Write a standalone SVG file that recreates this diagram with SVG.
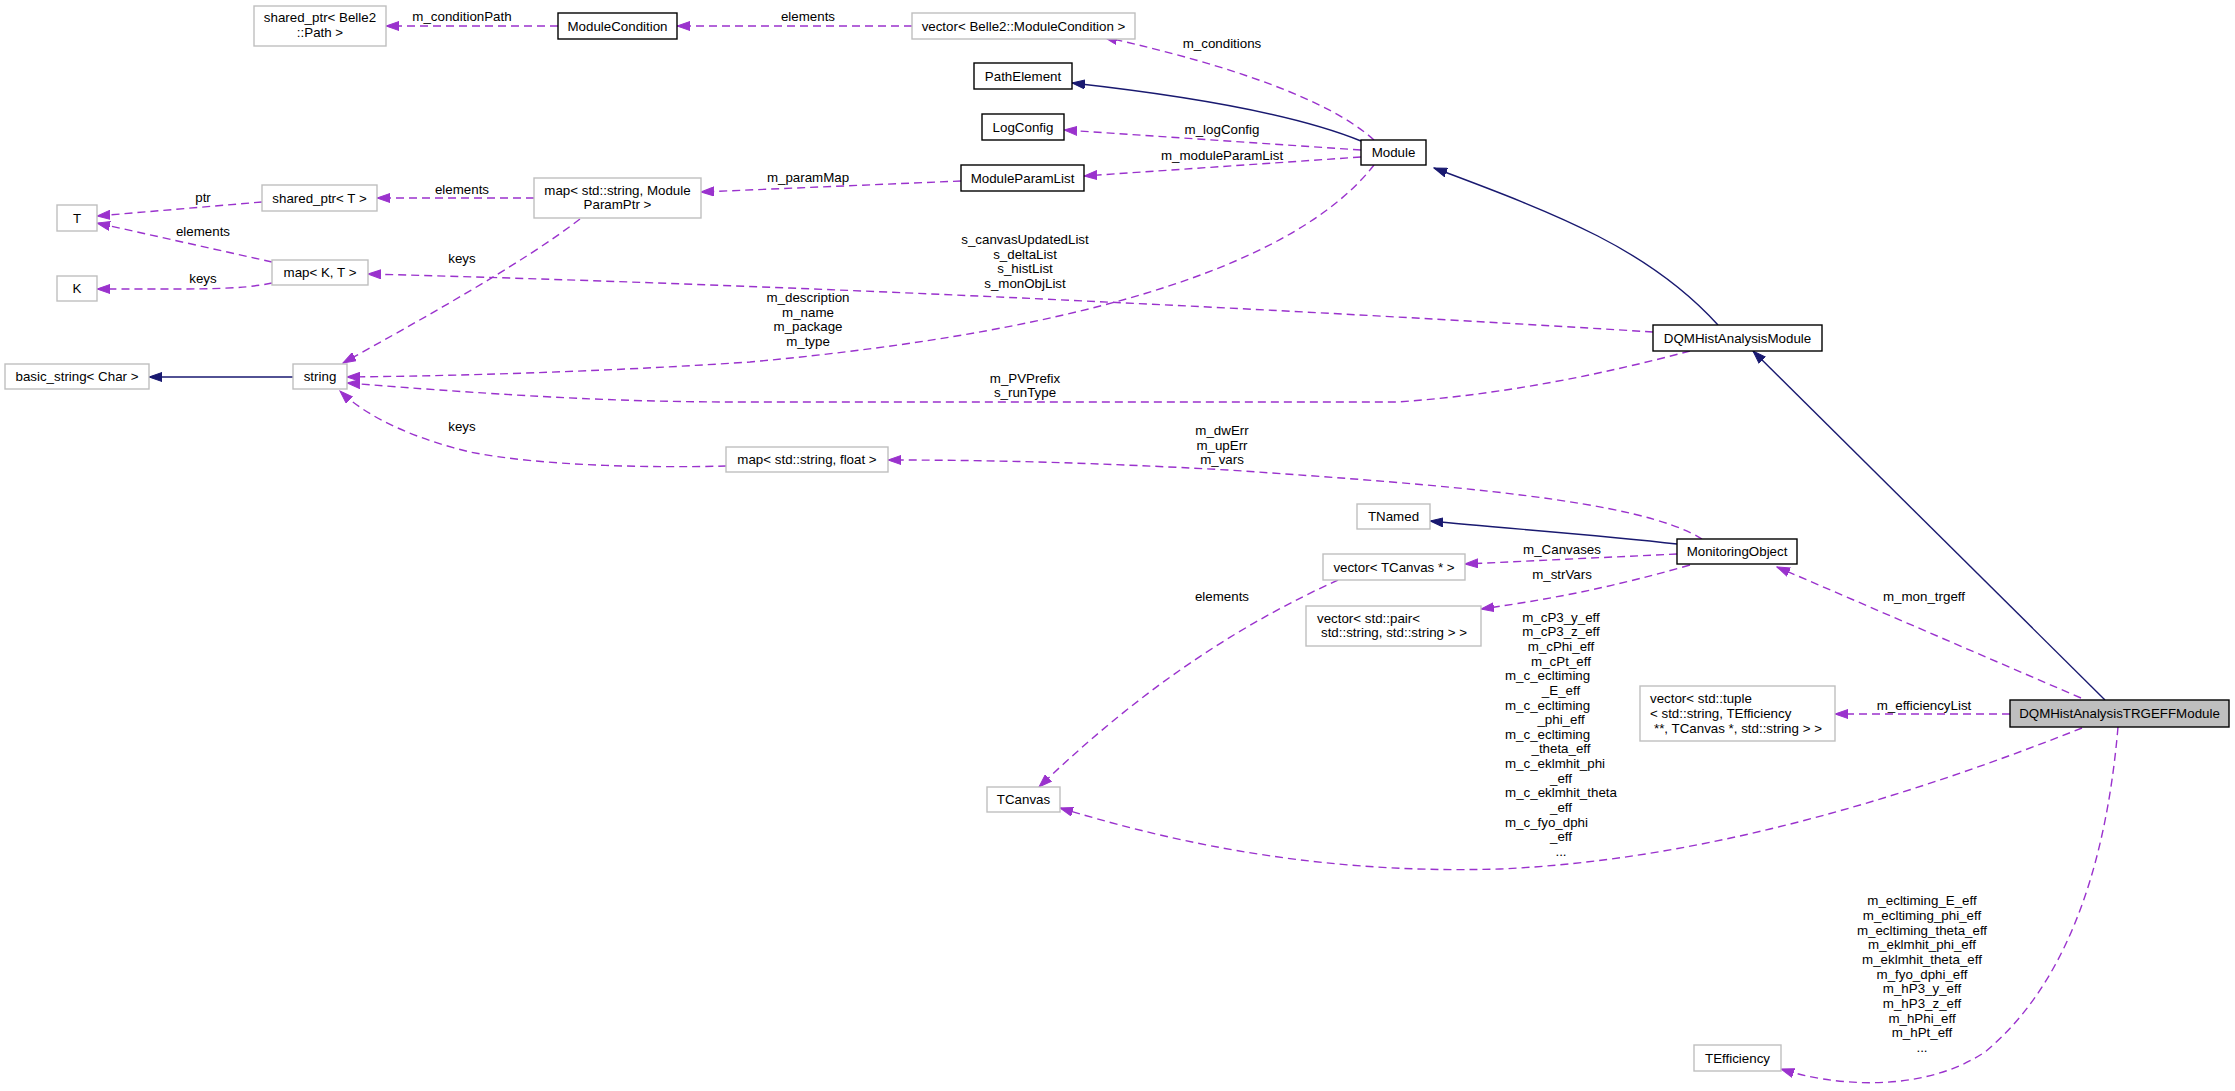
<svg xmlns="http://www.w3.org/2000/svg" width="2235" height="1091" viewBox="0 0 2235 1091">
<style>
text{font-family:"Liberation Sans",Helvetica,Arial,sans-serif;font-size:13.33px;fill:#000}
.n text{text-anchor:middle}
.g{fill:#fff;stroke:#bfbfbf;stroke-width:1.4}
.b{fill:#fff;stroke:#000;stroke-width:1.4}
.cur{fill:#bfbfbf;stroke:#000;stroke-width:1.4}
.inh{fill:none;stroke:#191970;stroke-width:1.4;marker-end:url(#an)}
.use{fill:none;stroke:#9a32cd;stroke-width:1.4;stroke-dasharray:8,5;marker-end:url(#ap)}
.lbl text{text-anchor:middle}
</style>
<defs>
<marker id="ap" markerUnits="userSpaceOnUse" markerWidth="14" markerHeight="10" viewBox="0 0 14 10" refX="13" refY="5" orient="auto"><path d="M0,0.5 L13,5 L0,9.5 z" fill="#9a32cd" stroke="#9a32cd" stroke-width="1"/></marker>
<marker id="an" markerUnits="userSpaceOnUse" markerWidth="14" markerHeight="10" viewBox="0 0 14 10" refX="13" refY="5" orient="auto"><path d="M0,0.5 L13,5 L0,9.5 z" fill="#191970" stroke="#191970" stroke-width="1"/></marker>
</defs>
<rect width="2235" height="1091" fill="#fff"/>

<g id="edges">
<path class="inh" d="M293,377 L149,377"/>
<path class="inh" d="M1361,141 C1290,112 1180,95 1072,83"/>
<path class="inh" d="M1718,325 C1650,250 1560,215 1434,168"/>
<path class="inh" d="M2105,700 L1753,351"/>
<path class="inh" d="M1677,544 C1600,535 1500,528 1430,521"/>

<path class="use" d="M558,26 L386,26"/>
<path class="use" d="M912,26 L677,26"/>
<path class="use" d="M1374,140 C1330,100 1230,65 1104,37"/>
<path class="use" d="M1361,150 L1064,130"/>
<path class="use" d="M1361,157 L1084,176"/>
<path class="use" d="M961,181 L701,192"/>
<path class="use" d="M534,198 L377,198"/>
<path class="use" d="M262,202 L97,216"/>
<path class="use" d="M272,262 L97,223"/>
<path class="use" d="M272,283 C240,290 200,289 97,289"/>
<path class="use" d="M580,219 C520,265 420,320 343,363"/>
<path class="use" d="M1653,332 C1300,310 800,285 368,274"/>
<path class="use" d="M1374,165 C1300,260 1100,330 750,362 C600,372 450,376 347,377"/>
<path class="use" d="M1690,351 C1600,375 1500,395 1397,402 L750,402 C650,402 560,400 347,383"/>
<path class="use" d="M726,466 C650,468 540,466 470,452 C420,440 370,420 340,391"/>
<path class="use" d="M1702,539 C1640,500 1450,485 1228,470 C1100,463 1000,460 888,460"/>
<path class="use" d="M1677,554 L1465,564"/>
<path class="use" d="M1690,565 C1620,585 1560,598 1481,609"/>
<path class="use" d="M1338,580 C1250,620 1150,680 1039,787"/>
<path class="use" d="M2081,698 L1777,567"/>
<path class="use" d="M2010,714 L1835,714"/>
<path class="use" d="M2082,728 C1900,800 1700,860 1500,869 C1300,875 1150,835 1060,808"/>
<path class="use" d="M2118,727 C2105,880 2060,990 1985,1052 C1920,1095 1830,1085 1781,1069"/>
</g>

<g id="edge-labels" class="lbl">
<text x="462" y="21">m_conditionPath</text>
<text x="808" y="21">elements</text>
<text x="1222" y="48">m_conditions</text>
<text x="1222" y="134">m_logConfig</text>
<text x="1222" y="160">m_moduleParamList</text>
<text x="808" y="182">m_paramMap</text>
<text x="462" y="194">elements</text>
<text x="203" y="202">ptr</text>
<text x="203" y="236">elements</text>
<text x="203" y="283">keys</text>
<text x="462" y="263">keys</text>
<text x="1025" y="244">s_canvasUpdatedList</text>
<text x="1025" y="259">s_deltaList</text>
<text x="1025" y="273">s_histList</text>
<text x="1025" y="288">s_monObjList</text>
<text x="808" y="302">m_description</text>
<text x="808" y="317">m_name</text>
<text x="808" y="331">m_package</text>
<text x="808" y="346">m_type</text>
<text x="1025" y="383">m_PVPrefix</text>
<text x="1025" y="397">s_runType</text>
<text x="462" y="431">keys</text>
<text x="1222" y="435">m_dwErr</text>
<text x="1222" y="450">m_upErr</text>
<text x="1222" y="464">m_vars</text>
<text x="1562" y="554">m_Canvases</text>
<text x="1562" y="579">m_strVars</text>
<text x="1222" y="601">elements</text>
<text x="1924" y="601">m_mon_trgeff</text>
<text x="1924" y="710">m_efficiencyList</text>
<text x="1561" y="622">m_cP3_y_eff</text>
<text x="1561" y="636">m_cP3_z_eff</text>
<text x="1561" y="651">m_cPhi_eff</text>
<text x="1561" y="666">m_cPt_eff</text>
<text x="1505" y="680" style="text-anchor:start">m_c_ecltiming</text>
<text x="1561" y="695">_E_eff</text>
<text x="1505" y="710" style="text-anchor:start">m_c_ecltiming</text>
<text x="1561" y="724">_phi_eff</text>
<text x="1505" y="739" style="text-anchor:start">m_c_ecltiming</text>
<text x="1561" y="753">_theta_eff</text>
<text x="1505" y="768" style="text-anchor:start">m_c_eklmhit_phi</text>
<text x="1561" y="783">_eff</text>
<text x="1561" y="797">m_c_eklmhit_theta</text>
<text x="1561" y="812">_eff</text>
<text x="1505" y="827" style="text-anchor:start">m_c_fyo_dphi</text>
<text x="1561" y="841">_eff</text>
<text x="1561" y="856">...</text>
<text x="1922" y="905">m_ecltiming_E_eff</text>
<text x="1922" y="920">m_ecltiming_phi_eff</text>
<text x="1922" y="935">m_ecltiming_theta_eff</text>
<text x="1922" y="949">m_eklmhit_phi_eff</text>
<text x="1922" y="964">m_eklmhit_theta_eff</text>
<text x="1922" y="979">m_fyo_dphi_eff</text>
<text x="1922" y="993">m_hP3_y_eff</text>
<text x="1922" y="1008">m_hP3_z_eff</text>
<text x="1922" y="1023">m_hPhi_eff</text>
<text x="1922" y="1037">m_hPt_eff</text>
<text x="1922" y="1052">...</text>
</g>

<g id="node-shared_ptr_path" class="n"><rect class="g" x="254" y="6" width="132" height="40"/><text x="320" y="21.5">shared_ptr&lt; Belle2</text><text x="320" y="36.5">::Path &gt;</text></g>
<g id="node-ModuleCondition" class="n"><rect class="b" x="558" y="13" width="119" height="26"/><text x="617.5" y="30.5">ModuleCondition</text></g>
<g id="node-vector_ModuleCondition" class="n"><rect class="g" x="912" y="13" width="223" height="26"/><text x="1023.5" y="30.5">vector&lt; Belle2::ModuleCondition &gt;</text></g>
<g id="node-PathElement" class="n"><rect class="b" x="974" y="63" width="98" height="26"/><text x="1023" y="80.5">PathElement</text></g>
<g id="node-LogConfig" class="n"><rect class="b" x="982" y="114" width="82" height="26"/><text x="1023" y="131.5">LogConfig</text></g>
<g id="node-ModuleParamList" class="n"><rect class="b" x="961" y="165" width="123" height="26"/><text x="1022.5" y="182.5">ModuleParamList</text></g>
<g id="node-Module" class="n"><rect class="b" x="1361" y="140" width="65" height="25"/><text x="1393.5" y="157">Module</text></g>
<g id="node-T" class="n"><rect class="g" x="57" y="205" width="40" height="26"/><text x="77" y="222.5">T</text></g>
<g id="node-shared_ptr_T" class="n"><rect class="g" x="262" y="185" width="115" height="26"/><text x="319.5" y="202.5">shared_ptr&lt; T &gt;</text></g>
<g id="node-map_ModuleParamPtr" class="n"><rect class="g" x="534" y="178" width="167" height="40"/><text x="617.5" y="194.5">map&lt; std::string, Module</text><text x="617.5" y="208.5">ParamPtr &gt;</text></g>
<g id="node-map_K_T" class="n"><rect class="g" x="272" y="260" width="96" height="25"/><text x="320" y="277">map&lt; K, T &gt;</text></g>
<g id="node-K" class="n"><rect class="g" x="57" y="276" width="40" height="25"/><text x="77" y="293">K</text></g>
<g id="node-basic_string" class="n"><rect class="g" x="5" y="364" width="144" height="25"/><text x="77" y="381">basic_string&lt; Char &gt;</text></g>
<g id="node-string" class="n"><rect class="g" x="293" y="364" width="54" height="25"/><text x="320" y="381">string</text></g>
<g id="node-DQMHistAnalysisModule" class="n"><rect class="b" x="1653" y="325" width="169" height="26"/><text x="1737.5" y="342.5">DQMHistAnalysisModule</text></g>
<g id="node-map_string_float" class="n"><rect class="g" x="726" y="447" width="162" height="25"/><text x="807" y="464">map&lt; std::string, float &gt;</text></g>
<g id="node-TNamed" class="n"><rect class="g" x="1357" y="504" width="73" height="25"/><text x="1393.5" y="521">TNamed</text></g>
<g id="node-vector_TCanvas" class="n"><rect class="g" x="1323" y="554" width="142" height="26"/><text x="1394" y="571.5">vector&lt; TCanvas * &gt;</text></g>
<g id="node-vector_pair"><rect class="g" x="1306" y="606" width="175" height="40"/><text x="1317" y="622.5">vector&lt; std::pair&lt;</text><text x="1321" y="636.5">std::string, std::string &gt; &gt;</text></g>
<g id="node-MonitoringObject" class="n"><rect class="b" x="1677" y="539" width="120" height="25"/><text x="1737" y="556">MonitoringObject</text></g>
<g id="node-vector_tuple"><rect class="g" x="1640" y="686" width="195" height="55"/><text x="1650" y="702.5">vector&lt; std::tuple</text><text x="1650" y="717.5">&lt; std::string, TEfficiency</text><text x="1654" y="732.5">**, TCanvas *, std::string &gt; &gt;</text></g>
<g id="node-DQMHistAnalysisTRGEFFModule" class="n"><rect class="cur" x="2010" y="700" width="219" height="27"/><text x="2119.5" y="718">DQMHistAnalysisTRGEFFModule</text></g>
<g id="node-TCanvas" class="n"><rect class="g" x="987" y="787" width="73" height="25"/><text x="1023.5" y="804">TCanvas</text></g>
<g id="node-TEfficiency" class="n"><rect class="g" x="1694" y="1045" width="87" height="26"/><text x="1737.5" y="1062.5">TEfficiency</text></g>
</svg>
